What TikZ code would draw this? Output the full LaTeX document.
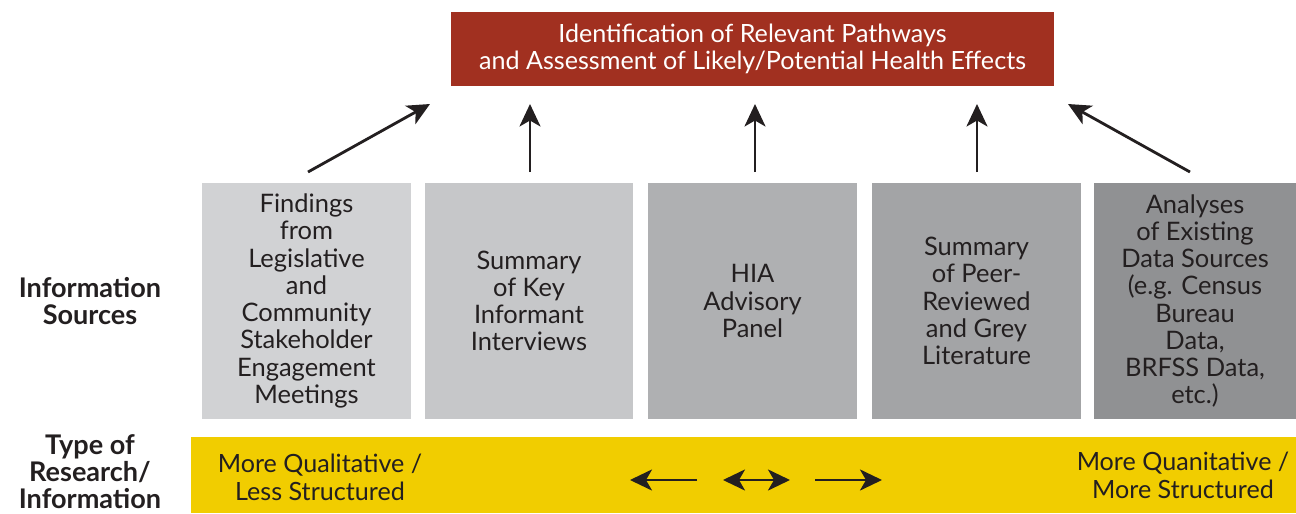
\documentclass[tikz,border=0pt]{standalone}
\usepackage{fontspec}
\setmainfont{Lato}
\usepackage{tikz}
\usetikzlibrary{positioning, arrows.meta}
\definecolor{hiared}{RGB}{161, 48, 32}
\definecolor{hiayellow}{RGB}{241, 205, 0}
\definecolor{hiatext}{RGB}{35, 31, 32}
\definecolor{grayA}{RGB}{209, 210, 212}
\definecolor{grayB}{RGB}{198, 199, 201}
\definecolor{grayC}{RGB}{175, 176, 178}
\definecolor{grayD}{RGB}{163, 164, 166}
\definecolor{grayE}{RGB}{144, 145, 147}
\tikzset{
    srcbox/.style={rectangle, inner sep=0pt, minimum width=4.18cm, minimum height=4.72cm, align=center, text=hiatext, font=\fontsize{14.5}{15.5}\selectfont},
    headbox/.style={rectangle, fill=hiared, inner sep=0pt, minimum width=12.06cm, minimum height=1.5cm, align=center, text=white, font=\fontsize{14.3}{15.5}\selectfont},
    sidelabel/.style={align=center, inner sep=0pt, text=hiatext, font=\fontsize{15.4}{15.4}\selectfont\bfseries},
    bartext/.style={align=center, text=hiatext, font=\fontsize{14.3}{15.8}\selectfont},
    uparrow/.style={-{Stealth[length=4.5mm, width=4.2mm, inset=1.2mm]}, line width=1.6pt, draw=hiatext},
    bararrow/.style={line width=1.6pt, draw=hiatext}
}

\begin{document}
\begin{tikzpicture}[x=0.02cm, y=-0.02cm]
    \useasboundingbox (0,0) rectangle (1296,514);

    % result at the top
    \node[headbox] (head) at (752.5,49) {Identification of Relevant Pathways\\and Assessment of Likely/Potential Health Effects};

    % information sources
    \node[srcbox, fill=grayA] (src1) at (306.5,301) {Findings\\from\\Legislative\\and\\Community\\Stakeholder\\Engagement\\Meetings};
    \node[srcbox, fill=grayB] (src2) at (529,301) {Summary\\of Key\\Informant\\Interviews};
    \node[srcbox, fill=grayC] (src3) at (752.5,301) {HIA\\Advisory\\Panel};
    \node[srcbox, fill=grayD] (src4) at (976.5,301) {Summary\\of Peer-\\Reviewed\\and Grey\\Literature};
    \node[srcbox, fill=grayE, minimum width=4.04cm] (src5) at (1195,301) {Analyses\\of Existing\\Data Sources\\(e.g. Census\\Bureau\\Data,\\BRFSS Data,\\etc.)};

    % arrows up to the red box
    \coordinate (a1) at (308,172);  \coordinate (b1) at (430,104);
    \coordinate (a2) at (530,172);  \coordinate (b2) at (530,104);
    \coordinate (a3) at (755,172);  \coordinate (b3) at (755,104);
    \coordinate (a4) at (977,172);  \coordinate (b4) at (977,104);
    \coordinate (a5) at (1190,172); \coordinate (b5) at (1068,104);
    \foreach \i in {1,...,5}
        \draw[uparrow] (a\i) -- (b\i);

    % type of research bar
    \node[rectangle, fill=hiayellow, inner sep=0pt, minimum width=22.1cm, minimum height=1.52cm] (bar) at (743.5,475) {};
    \node[bartext] (qual) at (320,477.5) {More Qualitative /\\Less Structured};
    \node[bartext] (quan) at (1183,475) {More Quanitative /\\More Structured};
    \coordinate (l1) at (697,480); \coordinate (l2) at (630,480);
    \coordinate (m1) at (723,480); \coordinate (m2) at (790,480);
    \coordinate (r1) at (815,480); \coordinate (r2) at (882,480);
    \draw[bararrow, -{Stealth[length=4.4mm, width=4.2mm, inset=1.2mm]}] (l1) -- (l2);
    \draw[bararrow, {Stealth[length=4.4mm, width=4.2mm, inset=1.2mm]}-{Stealth[length=4.4mm, width=4.2mm, inset=1.2mm]}] (m1) -- (m2);
    \draw[bararrow, -{Stealth[length=4.4mm, width=4.2mm, inset=1.2mm]}] (r1) -- (r2);

    % row labels
    \node[sidelabel] (info) at (90,301) {Information\\Sources};
    \node[sidelabel] (type) at (90,472) {Type of\\Research/\\Information};
\end{tikzpicture}
\end{document}
